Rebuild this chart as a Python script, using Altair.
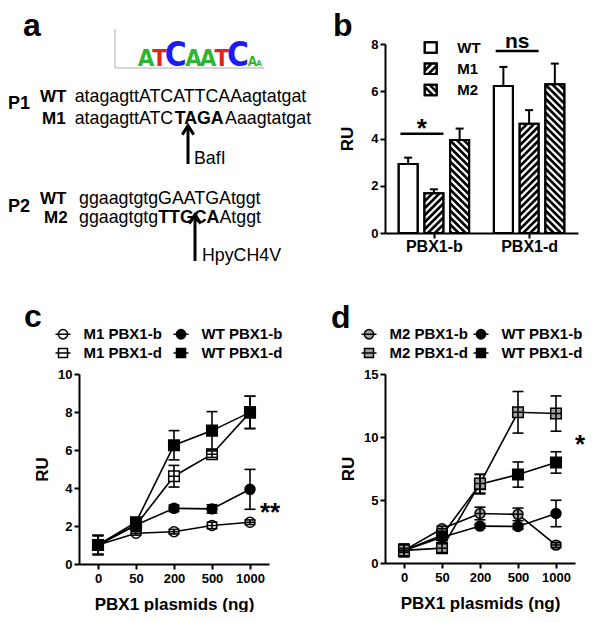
import altair as alt
import pandas as pd
import numpy as np

FONT = "Liberation Sans"
NARROW = "Liberation Sans Narrow, DejaVu Sans Condensed, Liberation Sans"

# ------------------------------------------------------------------ data
# panel a : motif logo + sequences
motif_letters = ["A", "T", "C", "A", "A", "T", "C", "A", "A"]
motif_bits = [1.25, 1.25, 1.75, 1.25, 1.25, 1.25, 1.75, 0.7, 0.42]
p1_wt = "atagagttATCATTCAAagtatgat"
p1_m1 = ["atagagttATC", "TAGA", "Aaagtatgat"]
p2_wt = "ggaagtgtgGAATGAtggt"
p2_m2 = ["ggaagtgtg", "TTGCA", "Atggt"]
enzymes = ["BafI", "HpyCH4V"]

# panel b : bars (mean, sem)
b_groups = ["PBX1-b", "PBX1-d"]
b_series = ["WT", "M1", "M2"]
b_mean_pbx1b = [2.92, 1.68, 3.94]
b_sem_pbx1b = [0.27, 0.17, 0.48]
b_mean_pbx1d = [6.22, 4.62, 6.30]
b_sem_pbx1d = [0.81, 0.58, 0.87]
b_sig_text = ["*", "ns"]
b_sig_level = [4.2, 7.7]

# panels c, d : dose response (mean, sem)
doses = ["0", "50", "200", "500", "1000"]
wt_b = [1.0, 2.05, 2.93, 2.90, 3.93]
wt_b_sem = [0.5, 0.15, 0.17, 0.22, 1.05]
wt_d = [1.0, 2.20, 6.25, 7.02, 7.98]
wt_d_sem = [0.5, 0.20, 0.77, 1.00, 0.85]
m1_b = [1.0, 1.62, 1.70, 2.03, 2.20]
m1_b_sem = [0.5, 0.10, 0.12, 0.17, 0.12]
m1_d = [1.0, 2.05, 4.62, 5.78, 7.98]
m1_d_sem = [0.5, 0.20, 0.57, 0.17, 0.85]
m2_b = [1.0, 2.72, 3.93, 3.86, 1.42]
m2_b_sem = [0.15, 0.20, 0.50, 0.50, 0.20]
m2_d = [1.0, 1.18, 6.30, 11.96, 11.86]
m2_d_sem = [0.15, 0.35, 0.75, 1.65, 1.40]

# ------------------------------------------------------------------ helpers
REG = {"a": .556, "g": .556, "t": .278, "A": .667, "T": .611, "C": .722, "G": .778}
BOLD = {"A": .722, "T": .611, "C": .722, "G": .778}
NARROW_BOLD = {"A": .592, "T": .501, "C": .592, "G": .638}
SEQ_FS = 17.8
LOGO_FS_PER_BIT = 19.0
OX, OY = 77, 43  # frame origin shared by panel a/c (x) and a/b (y)


def tw(s, table, fs):
    return sum(table[ch] for ch in s) * fs


def stripes(w, h, step, direction):
    out = []
    for k in range(int(np.floor(-w / step)) - 1, int(np.ceil(h / step)) + 1):
        c = k * step + step * 0.5
        xs, xe = max(0.0, -c), min(w, h - c)
        if xe - xs < 0.6:
            continue
        ys, ye = xs + c, xe + c
        if direction == "\\":
            xs, xe = w - xs, w - xe
        out.append((xs, ys, xe, ye))
    return out


def ptext(rows, size, weight="normal", color="black", font=FONT, align="left"):
    df = pd.DataFrame(rows, columns=["t", "x", "y"])
    df["x"] -= OX
    df["y"] -= OY
    return alt.Chart(df).mark_text(font=font, fontSize=size, fontWeight=weight, color=color,
                                   align=align, baseline="alphabetic").encode(
        x=alt.X("x:Q", scale=None, axis=None), y=alt.Y("y:Q", scale=None, axis=None), text="t:N")


# ------------------------------------------------------------------ panel a
x_m1 = [72.7]
x_m1.append(x_m1[0] + tw(p1_m1[0], REG, SEQ_FS))
x_m1.append(x_m1[1] + tw(p1_m1[1], BOLD, SEQ_FS))
x_m2 = [77.0]
x_m2.append(x_m2[0] + tw(p2_m2[0], REG, SEQ_FS))
x_m2.append(x_m2[1] + tw(p2_m2[1], BOLD, SEQ_FS))

# logo columns laid out side by side from each letter's rendered width
logo_x, left = [], 137.0
for L, bts in zip(motif_letters, motif_bits):
    w = NARROW_BOLD[L] * bts * LOGO_FS_PER_BIT
    logo_x.append(left + w / 2 - OX)
    left += w * 1.04
logo_df = pd.DataFrame({"letter": motif_letters, "bits": motif_bits, "px": logo_x, "py": 65.0 - OY})
logo = alt.Chart(logo_df).mark_text(font=NARROW, fontWeight="bold", baseline="alphabetic",
                                    align="center").encode(
    x=alt.X("px:Q", scale=None, axis=None), y=alt.Y("py:Q", scale=None, axis=None),
    text="letter:N",
    size=alt.Size("bits:Q", scale=alt.Scale(domain=[0, 2], range=[0, 2 * LOGO_FS_PER_BIT]), legend=None),
    color=alt.Color("letter:N", scale=alt.Scale(domain=["A", "C", "G", "T"],
                                                range=["#2fb52f", "#1c1cf0", "#f0a020", "#e3241d"]),
                    legend=None),
)
logo_axes = alt.Chart(pd.DataFrame({"x": [113 - OX, 113 - OX], "y": [28 - OY, 67 - OY],
                                    "x2": [113 - OX, 262 - OX], "y2": [67 - OY, 67 - OY]})).mark_rule(
    color="#9a9a9a", strokeWidth=0.8).encode(
    x=alt.X("x:Q", scale=None, axis=None), y=alt.Y("y:Q", scale=None, axis=None), x2="x2:Q", y2="y2:Q")

arrows = pd.DataFrame({"x": [186 - OX, 193 - OX], "tip": [124 - OY, 213 - OY], "end": [163 - OY, 260 - OY]})
arrow_shaft = alt.Chart(arrows).transform_calculate(top="datum.tip + 3").mark_rule(
    color="black", strokeWidth=3).encode(
    x=alt.X("x:Q", scale=None, axis=None), y=alt.Y("top:Q", scale=None, axis=None), y2="end:Q")
arrow_head = alt.Chart(arrows).transform_calculate(cy="datum.tip + 4.5").mark_point(
    shape="M-1,0.9L0,-0.7L1,0.9", filled=False, color="black", strokeWidth=3, size=130,
    opacity=1, strokeJoin="miter").encode(
    x=alt.X("x:Q", scale=None, axis=None), y=alt.Y("cy:Q", scale=None, axis=None))

panel_a = alt.layer(
    ptext([("a", 21, 35)], 32, "bold"),
    logo_axes, logo,
    ptext([("P1", 6, 108), ("P2", 6, 211)], 18, "bold"),
    ptext([("WT", 38, 101), ("M1", 40, 123), ("WT", 38, 203), ("M2", 42, 222)], 17, "bold"),
    ptext([(p1_wt, 72.7, 101), (p1_m1[0], x_m1[0], 123), (p1_m1[2], x_m1[2], 123),
           (p2_wt, 77, 203), (p2_m2[0], x_m2[0], 222), (p2_m2[2], x_m2[2], 222),
           (enzymes[0], 192, 163), (enzymes[1], 200, 260)], SEQ_FS),
    ptext([(p1_m1[1], x_m1[1], 123), (p2_m2[1], x_m2[1], 222)], SEQ_FS, "bold"),
    arrow_shaft, arrow_head,
).properties(width=190, height=189)

# ------------------------------------------------------------------ panel b
B_W, B_H = 193, 189
B_XMAX, B_YMAX = 7.5, 8.0
KX, KY = B_W / B_XMAX, B_H / B_YMAX
B_GROUP_POS = [1.9, 5.6]
B_STEP, B_HALF = 1.0, 0.37
HATCH = {"M1": "/", "M2": "\\"}
HATCH_STEP = 7.0

rows, hrows = [], []
for gi, (g, means, sems) in enumerate(zip(b_groups, [b_mean_pbx1b, b_mean_pbx1d],
                                          [b_sem_pbx1b, b_sem_pbx1d])):
    for si, s in enumerate(b_series):
        xc = B_GROUP_POS[gi] + (si - 1) * B_STEP
        r = dict(group=g, series=s, mean=means[si], sem=sems[si], xc=xc,
                 x0=xc - B_HALF, x1=xc + B_HALF, top=means[si] + sems[si], zero=0.0)
        rows.append(r)
        if s in HATCH:
            for xs, ys, xe, ye in stripes(2 * B_HALF * KX, means[si] * KY, HATCH_STEP, HATCH[s]):
                hrows.append(dict(hx0=r["x0"] + xs / KX, hy0=ys / KY, hx1=r["x0"] + xe / KX, hy1=ye / KY))

# legend swatches (drawn in the panel's own frame, above the bars)
LEG_LEFT_PX, LEG_W_PX, LEG_H_PX = 39.7, 12.0, 10.5
LEG_TOP_ROW_PX, LEG_ROW_STEP_PX, LEG_LABEL_GAP_PX = 3.5, 21.3, 20.6
leg_rows = []
for i, s in enumerate(b_series):
    cy = LEG_TOP_ROW_PX + i * LEG_ROW_STEP_PX
    bottom = (B_H - (cy + LEG_H_PX / 2)) / KY
    x0 = LEG_LEFT_PX / KX
    leg_rows.append(dict(series=s, x0=x0, x1=(LEG_LEFT_PX + LEG_W_PX) / KX, zero=bottom,
                         mean=bottom + LEG_H_PX / KY, ty=(B_H - cy) / KY,
                         tx=(LEG_LEFT_PX + LEG_W_PX + LEG_LABEL_GAP_PX) / KX))
    if s in HATCH:
        for xs, ys, xe, ye in stripes(LEG_W_PX, LEG_H_PX, HATCH_STEP, HATCH[s]):
            hrows.append(dict(hx0=x0 + xs / KX, hy0=bottom + ys / KY, hx1=x0 + xe / KX, hy1=bottom + ye / KY))
df_b = pd.DataFrame(rows)
df_leg = pd.DataFrame(leg_rows)
df_boxes = pd.concat([df_b[["x0", "x1", "zero", "mean"]], df_leg[["x0", "x1", "zero", "mean"]]])
df_h = pd.DataFrame(hrows)

label_expr = "datum.value < %.3f ? '%s' : '%s'" % (sum(B_GROUP_POS) / 2, b_groups[0], b_groups[1])
bx_scale = alt.Scale(domain=[0, B_XMAX], nice=False, zero=False)
bx_axis = alt.Axis(values=B_GROUP_POS, labelExpr=label_expr, title=None, labelFontSize=16,
                   labelPadding=0, grid=False)
by_scale = alt.Scale(domain=[0, B_YMAX], nice=False)
by_axis = alt.Axis(values=[0, 2, 4, 6, 8], title="RU", titlePadding=14, grid=False)


def BX(f):
    return alt.X(f, scale=bx_scale, axis=bx_axis)


def BY(f):
    return alt.Y(f, scale=by_scale, axis=by_axis)


sig_rows = []
for gi, (t, lv) in enumerate(zip(b_sig_text, b_sig_level)):
    wt_c = B_GROUP_POS[gi] - B_STEP
    m1_c = B_GROUP_POS[gi]
    sig_rows.append(dict(t=t, x0=wt_c - 0.3, x1=m1_c + 0.37, xm=(wt_c - 0.3 + m1_c + 0.37) / 2, y=lv))
df_sig = pd.DataFrame(sig_rows)

bars = alt.Chart(df_boxes).mark_rect(fill="white", stroke="black", strokeWidth=2).encode(
    x=BX("x0:Q"), x2="x1:Q", y=BY("zero:Q"), y2="mean:Q")
hatch = alt.Chart(df_h).mark_rule(color="black", strokeWidth=2.6, strokeCap="butt").encode(
    x=BX("hx0:Q"), x2="hx1:Q", y=BY("hy0:Q"), y2="hy1:Q")
outline = alt.Chart(df_boxes).mark_rect(fill="white", fillOpacity=0, stroke="black", strokeWidth=2).encode(
    x=BX("x0:Q"), x2="x1:Q", y=BY("zero:Q"), y2="mean:Q")
b_err = alt.Chart(df_b).mark_rule(color="black", strokeWidth=2).encode(
    x=BX("xc:Q"), y=BY("mean:Q"), y2="top:Q")
b_cap = alt.Chart(df_b).mark_tick(orient="horizontal", size=8, thickness=2, color="black", opacity=1).encode(
    x=BX("xc:Q"), y=BY("top:Q"))
sig_line = alt.Chart(df_sig).mark_rule(color="black", strokeWidth=2.5).encode(
    x=BX("x0:Q"), x2="x1:Q", y=BY("y:Q"))
sig_star = alt.Chart(df_sig).transform_filter("datum.t == '*'").mark_text(
    font=FONT, fontWeight="bold", fontSize=26, align="center", baseline="alphabetic", dy=3).encode(
    x=BX("xm:Q"), y=BY("y:Q"), text="t:N")
sig_ns = alt.Chart(df_sig).transform_filter("datum.t != '*'").mark_text(
    font=FONT, fontWeight="bold", fontSize=21, align="center", baseline="alphabetic", dy=-3).encode(
    x=BX("xm:Q"), y=BY("y:Q"), text="t:N")
leg_text = alt.Chart(df_leg).mark_text(
    font=FONT, fontWeight="bold", fontSize=15, align="left", baseline="middle").encode(
    x=BX("tx:Q"), y=BY("ty:Q"), text="series:N")
b_letter = alt.Chart(pd.DataFrame({"t": ["b"]})).mark_text(
    font=FONT, fontWeight="bold", fontSize=32, align="left", baseline="alphabetic").encode(
    x=alt.value(-52), y=alt.value(-8), text="t:N")

panel_b = alt.layer(bars, hatch, outline, b_err, b_cap, sig_line, sig_star, sig_ns, leg_text, b_letter
                    ).properties(width=B_W, height=B_H)

# ------------------------------------------------------------------ panels c, d
CIRC = "M-0.94,0L0.94,0M-0.94,0A0.94,0.94,0,1,1,0.94,0A0.94,0.94,0,1,1,-0.94,0Z"
SQR = "M-1,0L1,0M-1,-1H1V1H-1Z"
CIRC_L = "M-1,0L1,0M-0.62,0A0.62,0.62,0,1,1,0.62,0A0.62,0.62,0,1,1,-0.62,0Z"
SQR_L = "M-1,0L1,0M-0.6,-0.6H0.6V0.6H-0.6Z"


def dose_panel(names, means, sems, fills, shapes, draw_order, ymax, yticks, star, star_v, star_dx,
               letter, letter_xy, width, height, col_pad):
    # names are in legend order (column-major: left column first)
    recs = []
    for s in draw_order:
        i = names.index(s)
        for j, d in enumerate(doses):
            recs.append(dict(series=s, dose=d, idx=j, v=means[i][j], e=sems[i][j]))
    df = pd.DataFrame(recs)
    xs = alt.Scale(type="point", domain=doses, padding=0.5)
    xa = alt.Axis(title="PBX1 plasmids (ng)", labelAngle=0, labelPadding=3, titlePadding=11, grid=False)
    ys = alt.Scale(domain=[0, ymax], nice=False)
    ya = alt.Axis(values=yticks, title="RU", titlePadding=6, grid=False)
    X = alt.X("dose:N", scale=xs, axis=xa)

    def Y(f):
        return alt.Y(f, scale=ys, axis=ya)

    base = alt.Chart(df)
    line = base.mark_line(color="black", strokeWidth=1.6).encode(
        x=X, y=Y("v:Q"), detail="series:N", order="idx:Q")
    marks = base.mark_point(filled=True, stroke="black", strokeWidth=1.5, size=112, opacity=1).encode(
        x=X, y=Y("v:Q"),
        shape=alt.Shape("series:N", scale=alt.Scale(domain=names, range=[shapes[n][0] for n in names]),
                        legend=None),
        fill=alt.Fill("series:N", scale=alt.Scale(domain=names, range=fills), legend=None))
    ebase = base.transform_calculate(lo="datum.v - datum.e", hi="datum.v + datum.e")
    err = ebase.mark_rule(color="black", strokeWidth=1.6).encode(x=X, y=Y("lo:Q"), y2="hi:Q")
    caps = ebase.transform_fold(["lo", "hi"], as_=["k", "cv"]).mark_tick(
        orient="horizontal", size=11, thickness=1.6, color="black", opacity=1).encode(x=X, y=Y("cv:Q"))
    leg = base.transform_filter("false").mark_point(
        filled=True, stroke="black", strokeWidth=1.5, opacity=1).encode(
        x=X, y=Y("v:Q"),
        shape=alt.Shape("series:N", scale=alt.Scale(domain=names, range=[shapes[n][1] for n in names])),
        fill=alt.Fill("series:N", scale=alt.Scale(domain=names, range=fills),
                      legend=alt.Legend(orient="none", legendX=-24.5, legendY=-48.5, columns=2,
                                        columnPadding=col_pad, rowPadding=2, title=None, labelFont=FONT,
                                        labelFontWeight="bold", labelFontSize=15, labelColor="black",
                                        symbolSize=225, symbolStrokeWidth=1.5, symbolStrokeColor="black",
                                        labelOffset=12, padding=0)))
    st = alt.Chart(pd.DataFrame({"dose": [doses[-1]], "v": [star_v], "t": [star]})).mark_text(
        font=FONT, fontWeight="bold", fontSize=26, align="left", baseline="alphabetic",
        dx=star_dx, dy=14).encode(x=X, y=Y("v:Q"), text="t:N")
    lt = alt.Chart(pd.DataFrame({"t": [letter]})).mark_text(
        font=FONT, fontWeight="bold", fontSize=32, align="left", baseline="alphabetic").encode(
        x=alt.value(letter_xy[0]), y=alt.value(letter_xy[1]), text="t:N")
    return alt.layer(line, marks, err, caps, leg, st, lt).resolve_scale(
        shape="independent", fill="independent").properties(width=width, height=height)


c_names = ["M1 PBX1-b", "M1 PBX1-d", "WT PBX1-b", "WT PBX1-d"]
panel_c = dose_panel(
    c_names, [m1_b, m1_d, wt_b, wt_d], [m1_b_sem, m1_d_sem, wt_b_sem, wt_d_sem],
    ["white", "white", "black", "black"],
    {"M1 PBX1-b": (CIRC, CIRC_L), "WT PBX1-b": (CIRC, CIRC_L),
     "M1 PBX1-d": (SQR, SQR_L), "WT PBX1-d": (SQR, SQR_L)},
    ["M1 PBX1-b", "M1 PBX1-d", "WT PBX1-b", "WT PBX1-d"],
    10, [0, 2, 4, 6, 8, 10], "**", 3.0, 10, "c", (-55, -47), 190, 190, 8)

d_names = ["M2 PBX1-b", "M2 PBX1-d", "WT PBX1-b", "WT PBX1-d"]
panel_d = dose_panel(
    d_names, [m2_b, m2_d, wt_b, wt_d], [m2_b_sem, m2_d_sem, wt_b_sem, wt_d_sem],
    ["#a3a3a3", "#a3a3a3", "black", "black"],
    {"M2 PBX1-b": (CIRC, CIRC_L), "WT PBX1-b": (CIRC, CIRC_L),
     "M2 PBX1-d": (SQR, SQR_L), "WT PBX1-d": (SQR, SQR_L)},
    ["WT PBX1-b", "WT PBX1-d", "M2 PBX1-b", "M2 PBX1-d"],
    15, [0, 5, 10, 15], "*", 9.84, 19, "d", (-54, -46.5), 190, 189, 2)

# ------------------------------------------------------------------ assemble
chart = alt.ConcatChart(
    concat=[panel_a, panel_b, panel_c, panel_d], columns=2,
    spacing={"row": 141, "column": 116}, bounds="flush", align="each",
).resolve_scale(fill="independent", shape="independent", size="independent", color="independent"
).resolve_legend(fill="independent", shape="independent"
).properties(padding={"left": 0, "top": 2, "right": 0, "bottom": 0}
).configure(font=FONT).configure_view(stroke=None).configure_axis(
    domainColor="black", domainWidth=2, tickColor="black", tickWidth=2, tickSize=5,
    labelColor="black", labelFont=FONT, labelFontWeight="bold", labelFontSize=13, labelPadding=2,
    titleColor="black", titleFont=FONT, titleFontWeight="bold", titleFontSize=17, grid=False)

chart.save("out.html", embed_options={"renderer": "svg", "actions": False})
